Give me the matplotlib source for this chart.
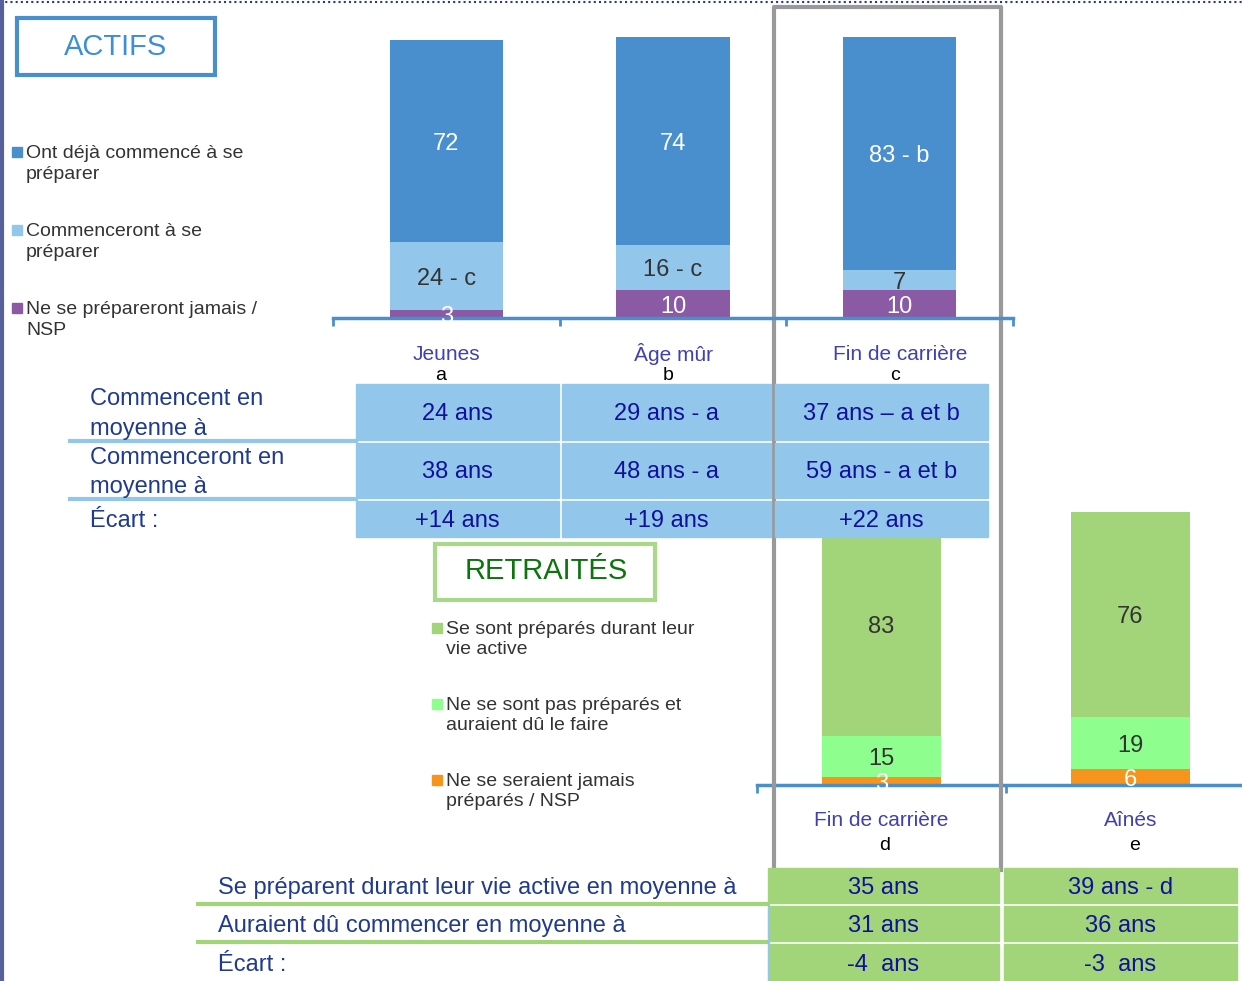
import matplotlib.pyplot as plt
from matplotlib.patches import Rectangle
import numpy as np

plt.rcParams['font.family'] = ['Liberation Sans', 'DejaVu Sans']

# --- data: actifs ---
actifs_groups = ['Jeunes', 'Âge mûr', 'Fin de carrière']
actifs_letters = ['a', 'b', 'c']
deja = [72, 74, 83]
deja_lbl = ['72', '74', '83 - b']
commenceront = [24, 16, 7]
commenceront_lbl = ['24 - c', '16 - c', '7']
jamais = [3, 10, 10]
jamais_lbl = ['3', '10', '10']
actifs_legend = ['Ont déjà commencé à se\npréparer', 'Commenceront à se\npréparer',
                 'Ne se prépareront jamais /\nNSP']
actifs_rows = ['Commencent en\nmoyenne à', 'Commenceront en\nmoyenne à', 'Écart :']
actifs_cells = [['24 ans', '29 ans - a', '37 ans – a et b'],
                ['38 ans', '48 ans - a', '59 ans - a et b'],
                ['+14 ans', '+19 ans', '+22 ans']]

# --- data: retraites ---
retr_groups = ['Fin de carrière', 'Aînés']
retr_letters = ['d', 'e']
prepares = [83, 76]
pas_prepares = [15, 19]
nsp = [3, 6]
retr_legend = ['Se sont préparés durant leur\nvie active', 'Ne se sont pas préparés et\nauraient dû le faire',
               'Ne se seraient jamais\npréparés / NSP']
retr_rows = ['Se préparent durant leur vie active en moyenne à', 'Auraient dû commencer en moyenne à', 'Écart :']
retr_cells = [['35 ans', '39 ans - d'], ['31 ans', '36 ans'], ['-4  ans', '-3  ans']]

# colours
c_blue, c_lblue, c_purple = '#4a8fcd', '#92c7eb', '#8b5aa4'
c_green, c_lgreen, c_orange = '#a2d47a', '#8eff8e', '#f7941d'
c_axis = '#4a8fcd'
c_cat = '#4040b0'
c_row = '#1f3a90'
c_cell = '#10109a'
c_dark = '#333333'

W, H = 1242, 981
fig = plt.figure(figsize=(W / 100, H / 100), dpi=100)


def px_axes(x0, y_top, x1, y_bot, z):
    return fig.add_axes([x0 / W, 1 - y_bot / H, (x1 - x0) / W, (y_bot - y_top) / H], zorder=z)


def style_bar_axes(ax, n):
    ax.set_xlim(-0.5, n - 0.5)
    for s in ['top', 'right', 'left']:
        ax.spines[s].set_visible(False)
    ax.spines['bottom'].set_color(c_axis)
    ax.spines['bottom'].set_linewidth(2.5)
    ax.set_yticks([])
    ax.set_xticks(np.arange(n + 1) - 0.5)
    ax.set_xticklabels([])
    ax.tick_params(axis='x', length=6, width=2, color=c_axis, direction='out')
    ax.patch.set_alpha(0)


# top bar chart
ax1 = px_axes(333, 37, 1013, 318, 2)
x = np.arange(len(actifs_groups))
b1 = ax1.bar(x, jamais, 0.5, color=c_purple)
b2 = ax1.bar(x, commenceront, 0.5, bottom=jamais, color=c_lblue)
b3 = ax1.bar(x, deja, 0.5, bottom=np.add(jamais, commenceront), color=c_blue)
ax1.set_ylim(0, 100)
style_bar_axes(ax1, len(actifs_groups))
for bars, labels, col in [(b1, jamais_lbl, 'white'), (b2, commenceront_lbl, c_dark), (b3, deja_lbl, 'white')]:
    ax1.bar_label(bars, labels=labels, label_type='center', color=col, fontsize=17, padding=-2)

# bottom bar chart
ax2 = px_axes(757, 512, 1255, 785, 0)
x2 = np.arange(len(retr_groups))
r1 = ax2.bar(x2, nsp, 0.48, color=c_orange)
r2 = ax2.bar(x2, pas_prepares, 0.48, bottom=nsp, color=c_lgreen)
r3 = ax2.bar(x2, prepares, 0.48, bottom=np.add(nsp, pas_prepares), color=c_green)
ax2.set_ylim(0, 101)
style_bar_axes(ax2, len(retr_groups))
for bars, col in [(r1, 'white'), (r2, c_dark), (r3, c_dark)]:
    ax2.bar_label(bars, label_type='center', color=col, fontsize=17, padding=-2)

# overlay for boxes, legends and tables
ov = fig.add_axes([0, 0, 1, 1], zorder=1)
ov.set_xlim(0, W)
ov.set_ylim(H, 0)
ov.axis('off')
ov.patch.set_alpha(0)

# frame lines
ov.plot([0, W], [1.5, 1.5], color='#2a3a8a', lw=1.5, ls=(0, (1, 1.5)))
ov.plot([2, 2], [0, H], color='#56609a', lw=3)
ov.plot([774, 774, 1001, 1001], [870, 7, 7, 870], color='#999999', lw=3, zorder=0.5)

# title boxes
ov.add_patch(Rectangle((17, 18), 198, 57, fill=False, ec='#4a8fcd', lw=3))
ov.text(116, 47, 'ACTIFS', color='#3c8fd6', fontsize=21, ha='center', va='center')
ov.add_patch(Rectangle((435, 544), 220, 56, fill=False, ec='#a8d888', lw=3))
ov.text(546, 571, 'RETRAITÉS', color='#0b740b', fontsize=21, ha='center', va='center')

# legends
for i, (lab, col) in enumerate(zip(actifs_legend, [c_blue, c_lblue, c_purple])):
    y = 152 + i * 78
    ov.add_patch(Rectangle((12, y - 5), 10, 10, color=col))
    ov.text(26, y - 7, lab, color=c_dark, fontsize=14, va='top', linespacing=1.28)
for i, (lab, col) in enumerate(zip(retr_legend, [c_green, c_lgreen, c_orange])):
    y = 628 + i * 76
    ov.add_patch(Rectangle((432, y - 5), 10, 10, color=col))
    ov.text(446, y - 7, lab, color=c_dark, fontsize=14, va='top', linespacing=1.23)

# category labels
for cx, g, l in zip([446, 673, 900], actifs_groups, actifs_letters):
    ov.text(cx, 354, g, color=c_cat, fontsize=15, ha='center', va='center')
    ov.text(cx - 5, 375, l, color='black', fontsize=14, ha='center', va='center')
for cx, g, l in zip([881, 1131], retr_groups, retr_letters):
    ov.text(cx, 821, g, color=c_cat, fontsize=15, ha='center', va='center')
    ov.text(cx + 4, 846, l, color='black', fontsize=14, ha='center', va='center')

# actifs table
cols_a = [(356, 559), (562, 771), (775, 988)]
rows_a = [(384, 440), (443, 498), (501, 537)]
for r, (y0, y1) in enumerate(rows_a):
    for c, (x0, x1) in enumerate(cols_a):
        ov.add_patch(Rectangle((x0, y0), x1 - x0, y1 - y0, color=c_lblue, zorder=2))
        ov.text((x0 + x1) / 2, (y0 + y1) / 2 + 2, actifs_cells[r][c], color=c_cell, fontsize=17,
                ha='center', va='center', zorder=3)
    ov.text(90, (y0 + y1) / 2 + 2, actifs_rows[r], color=c_row,
            fontsize=17, ha='left', va='center', linespacing=1.42, zorder=3)
    if r < 2:
        ov.plot([70, 356], [y1 + 1, y1 + 1], color=c_lblue, lw=3, zorder=2)

# retraites table
cols_r = [(768, 999), (1004, 1237)]
rows_r = [(868, 903), (906, 941), (944, 981)]
for r, (y0, y1) in enumerate(rows_r):
    for c, (x0, x1) in enumerate(cols_r):
        ov.add_patch(Rectangle((x0, y0), x1 - x0, y1 - y0, color=c_green, zorder=2))
        ov.text((x0 + x1) / 2, (y0 + y1) / 2 + 2.5, retr_cells[r][c], color=c_cell, fontsize=17,
                ha='center', va='center', zorder=3)
    ov.text(218, (y0 + y1) / 2 + 2.5, retr_rows[r], color=c_row, fontsize=17, ha='left', va='center', zorder=3)
    if r < 2:
        ov.plot([198, 768], [y1 + 1, y1 + 1], color=c_green, lw=3, zorder=2)
ov.plot([768.5, 768.5], [906, 981], color=c_lblue, lw=1.5, zorder=2.5)

fig.savefig('out.png', dpi=100)
